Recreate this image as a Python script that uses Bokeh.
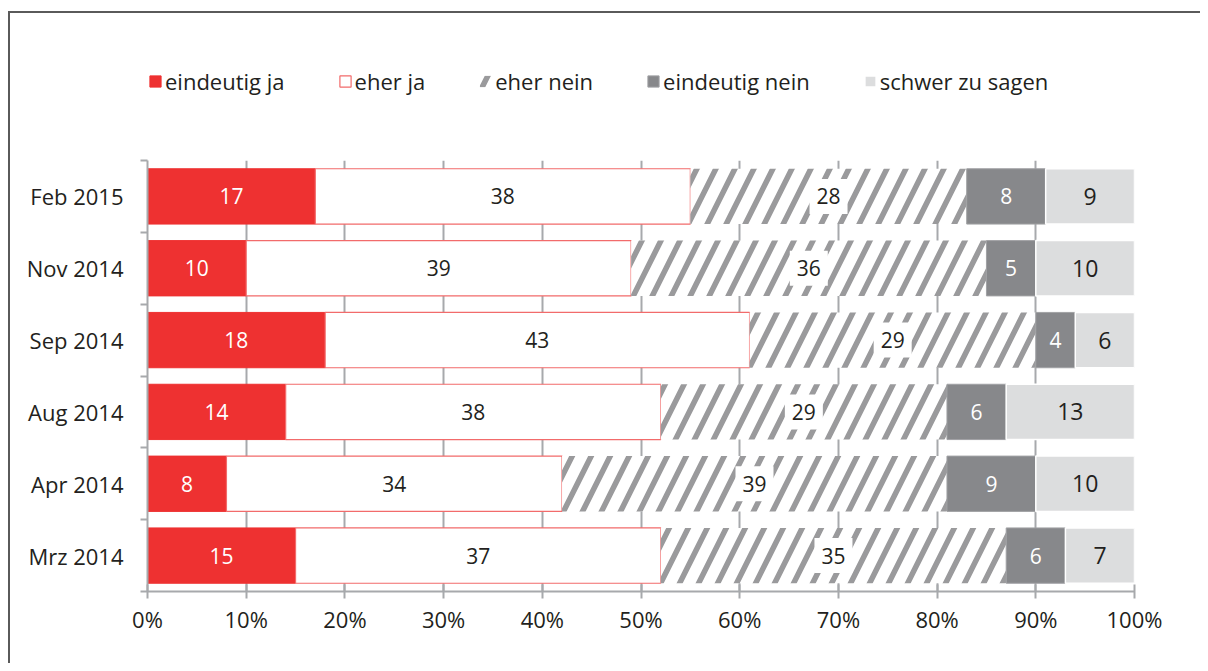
from bokeh.plotting import figure
from bokeh.models import ColumnDataSource, FixedTicker, Legend, LegendItem, Range1d
from bokeh.layouts import column
from bokeh.embed import file_html
from bokeh.resources import INLINE
from bokeh.core.properties import value

# ---- data ----
periods = ["Feb 2015", "Nov 2014", "Sep 2014", "Aug 2014", "Apr 2014", "Mrz 2014"]
series_names = ["eindeutig ja", "eher ja", "eher nein", "eindeutig nein", "schwer zu sagen"]
eindeutig_ja = [17, 10, 18, 14, 8, 15]
eher_ja = [38, 39, 43, 38, 34, 37]
eher_nein = [28, 36, 29, 29, 39, 35]
eindeutig_nein = [8, 5, 4, 6, 9, 6]
schwer_zu_sagen = [9, 10, 6, 13, 10, 7]
x_ticks = [0, 10, 20, 30, 40, 50, 60, 70, 80, 90, 100]
x_tick_labels = ["0%", "10%", "20%", "30%", "40%", "50%", "60%", "70%", "80%", "90%", "100%"]

FONT = "Open Sans"
TXT = "#231F20"
RED = "#EE3131"
DARK = "#87888B"
LIGHT = "#DCDDDE"
HATCH = "#9A9A9C"
GRID = "#A7A9AC"

n = len(periods)
ypos = [n - 0.5 - i for i in range(n)]
values = [eindeutig_ja, eher_ja, eher_nein, eindeutig_nein, schwer_zu_sagen]

data = {"y": ypos}
lefts = [0] * n
for k, vals in enumerate(values):
    data[f"l{k}"] = list(lefts)
    data[f"r{k}"] = [lefts[i] + vals[i] for i in range(n)]
    data[f"c{k}"] = [lefts[i] + vals[i] / 2 for i in range(n)]
    data[f"t{k}"] = [str(v) for v in vals]
    lefts = data[f"r{k}"]
src = ColumnDataSource(data)

styles = [
    dict(fill_color=RED, line_color=RED, line_width=1),
    dict(fill_color="white", line_color="#F26B6B", line_width=1.2),
    dict(fill_color="white", line_color=None, hatch_pattern="/", hatch_color=HATCH,
         hatch_weight=5.5, hatch_scale=38),
    dict(fill_color=DARK, line_color="#A0A1A4", line_width=1),
    dict(fill_color=LIGHT, line_color="white", line_width=1.5),
]

W = 1190
LH = 140
H = 510
BL, BR = 137, 66

# ---- legend strip (same frame alignment as the chart) ----
lg = figure(width=W, height=LH, output_backend="svg", toolbar_location=None,
            x_range=Range1d(0, 1), y_range=Range1d(0, 1),
            min_border_left=BL, min_border_right=BR, min_border_top=0, min_border_bottom=0)
lg.axis.visible = False
lg.grid.visible = False
lg.outline_line_color = None
lg.border_fill_color = "white"
# one off-screen row per legend renderer so that its swatch gets drawn
offscreen = ColumnDataSource(dict(y=[-5], l=[0], r=[0.1]))
lg_renderers = [lg.hbar(y="y", left="l", right="r", height=0.5, source=offscreen, **styles[k])
                for k in range(len(values))]
legend = Legend(items=[LegendItem(label=series_names[k], renderers=[lg_renderers[k]])
                       for k in range(len(values))],
                orientation="horizontal", location=(1, 57))
legend.glyph_width = 14
legend.glyph_height = 14
legend.label_standoff = 3
legend.spacing = 53
legend.padding = 0
legend.margin = 0
legend.border_line_color = None
legend.background_fill_alpha = 0
legend.label_text_font = FONT
legend.label_text_font_size = "22px"
legend.label_text_color = TXT
lg.add_layout(legend, "center")

# ---- main chart ----
p = figure(width=W, height=H, output_backend="svg", toolbar_location=None,
           x_range=Range1d(0, 100), y_range=Range1d(0, n),
           min_border_left=BL, min_border_right=BR, min_border_top=7, min_border_bottom=72)
p.outline_line_color = None
p.background_fill_color = "white"
p.border_fill_color = "white"

for k in range(len(values)):
    p.hbar(y="y", left=f"l{k}", right=f"r{k}", height=0.77, source=src, **styles[k])

# white boxes behind the hatched-segment labels
p.rect(x="c2", y="y", width=38, height=35, width_units="screen", height_units="screen",
       fill_color="white", line_color=None, source=src)

label_colors = ["white", TXT, TXT, "white", TXT]
label_sizes = ["21px", "21px", "21px", "21px", "23px"]
for k in range(len(values)):
    p.text(x=f"c{k}", y="y", text=f"t{k}", source=src, text_align="center",
           text_baseline="middle", text_font=value(FONT), text_font_size=label_sizes[k],
           text_color=label_colors[k])

xa = p.xaxis[0]
xa.ticker = FixedTicker(ticks=x_ticks)
xa.major_label_overrides = {t: lab for t, lab in zip(x_ticks, x_tick_labels)}
xa.axis_line_color = GRID
xa.axis_line_width = 2
xa.major_tick_line_color = GRID
xa.major_tick_line_width = 2
xa.major_tick_in = 7
xa.major_tick_out = 7
xa.minor_tick_line_color = None
xa.major_label_text_font = FONT
xa.major_label_text_font_size = "22px"
xa.major_label_text_color = TXT
xa.major_label_standoff = 5

ya = p.yaxis[0]
ya.ticker = FixedTicker(ticks=ypos, minor_ticks=list(range(n + 1)))
ya.major_label_overrides = {y: lab for y, lab in zip(ypos, periods)}
ya.axis_line_color = GRID
ya.axis_line_width = 2
ya.major_tick_line_color = None
ya.major_tick_in = 0
ya.major_tick_out = 0
ya.minor_tick_line_color = GRID
ya.minor_tick_line_width = 2
ya.minor_tick_in = 0
ya.minor_tick_out = 7
ya.major_label_text_font = FONT
ya.major_label_text_font_size = "22px"
ya.major_label_text_color = TXT
ya.major_label_standoff = 17

p.xgrid.ticker = FixedTicker(ticks=x_ticks)
p.xgrid.grid_line_color = GRID
p.xgrid.grid_line_width = 2
p.ygrid.grid_line_color = None

page = column(lg, p, spacing=0,
              styles={"border-left": "2px solid #5A5A5A", "border-top": "2px solid #5A5A5A",
                      "margin-top": "11px", "margin-left": "8px"})

open("out.html", "w").write(file_html(page, INLINE))
